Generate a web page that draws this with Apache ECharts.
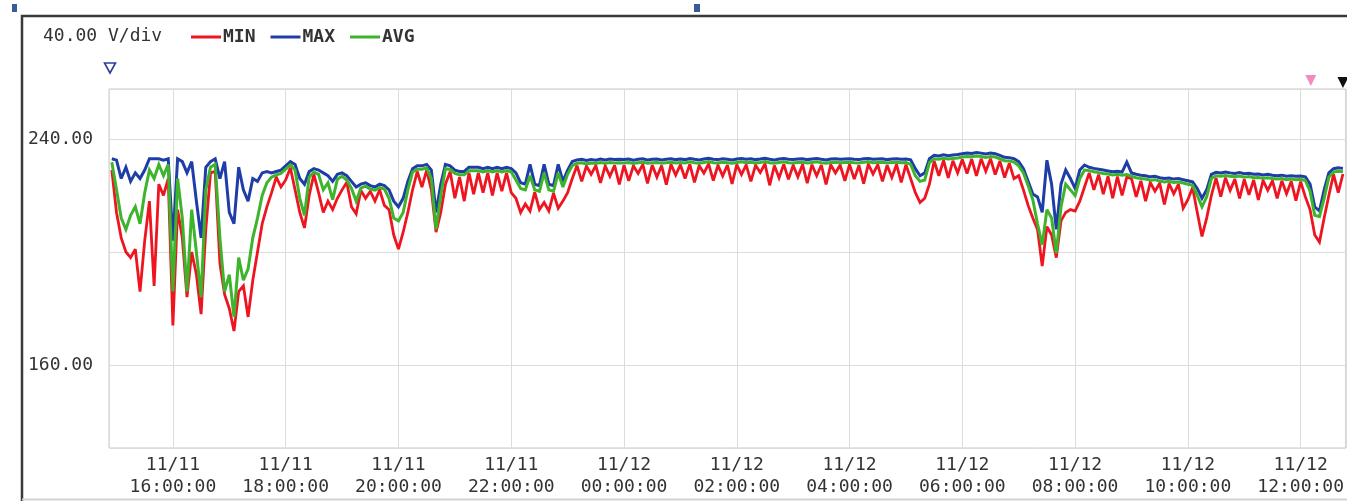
<!DOCTYPE html>
<html>
<head>
<meta charset="utf-8">
<title>Voltage trend</title>
<script src="https://cdn.jsdelivr.net/npm/echarts@6/dist/echarts.min.js"></script>
<style>
  html, body { margin: 0; padding: 0; background: #ffffff; }
  #chart { width: 1347px; height: 501px; }
</style>
</head>
<body>
<div id="chart"></div>
<script>
// Voltage samples every 5 minutes, first sample 11/11 14:55 (rows = one hour each)
const minV = [
  229.0,                                                                               // 14:55
  214.0, 205.0, 200.0, 198.0, 201.0, 186.0, 204.0, 218.0, 188.0, 224.0, 220.0, 226.0, // 15:00
  174.0, 215.0, 205.0, 184.0, 200.0, 192.0, 178.0, 208.0, 228.0, 228.5, 196.0, 185.0, // 16:00
  180.0, 172.0, 186.0, 188.0, 177.0, 190.0, 200.0, 210.0, 216.0, 221.0, 226.5, 223.0, // 17:00
  225.5, 229.8, 222.0, 214.0, 208.5, 220.0, 227.5, 221.0, 214.0, 218.0, 215.0, 219.0, // 18:00
  222.0, 224.7, 216.0, 213.5, 221.8, 219.0, 221.5, 218.0, 222.0, 216.5, 215.0, 206.0, // 19:00
  201.0, 207.0, 214.0, 222.0, 228.5, 223.0, 229.0, 222.0, 207.0, 214.0, 224.0, 228.4, // 20:00
  219.0, 226.5, 218.0, 228.0, 220.5, 228.0, 221.0, 228.0, 220.0, 228.0, 221.5, 228.0, // 21:00
  221.0, 219.0, 214.0, 217.0, 214.5, 221.2, 215.0, 217.5, 214.5, 220.8, 215.5, 218.0, // 22:00
  221.0, 226.0, 230.6, 225.0, 230.4, 227.5, 230.6, 224.5, 230.5, 226.8, 230.7, 223.9, // 23:00
  230.7, 225.2, 230.5, 227.8, 231.0, 224.3, 230.8, 226.5, 230.6, 223.8, 231.0, 227.2, // 00:00
  230.9, 226.0, 231.1, 224.6, 230.6, 227.9, 231.2, 225.3, 230.7, 226.9, 230.8, 224.1, // 01:00
  230.9, 227.4, 230.8, 225.0, 230.7, 228.1, 231.2, 223.6, 230.6, 226.2, 231.1, 225.7, // 02:00
  230.7, 226.6, 231.0, 224.4, 230.9, 227.0, 230.8, 223.9, 230.9, 228.0, 230.8, 225.2, // 03:00
  231.0, 225.8, 230.7, 224.2, 231.1, 227.6, 230.9, 225.0, 230.7, 226.4, 231.0, 224.6, // 04:00
  230.9, 226.0, 221.0, 217.5, 219.0, 224.0, 232.2, 227.0, 232.4, 226.2, 232.3, 228.0, // 05:00
  232.8, 227.8, 232.9, 226.9, 233.0, 228.6, 233.0, 227.4, 232.2, 226.3, 231.4, 226.0, // 06:00
  227.0, 222.0, 216.5, 212.0, 208.0, 195.0, 209.0, 206.0, 198.0, 211.0, 214.0, 215.0, // 07:00
  214.5, 218.0, 223.0, 228.0, 222.0, 227.4, 220.5, 226.8, 219.0, 226.7, 220.0, 226.5, // 08:00
  226.0, 219.5, 225.2, 218.0, 224.6, 221.5, 224.3, 216.8, 224.2, 220.6, 224.0, 215.5, // 09:00
  218.5, 222.8, 214.0, 205.5, 212.0, 220.0, 226.2, 219.6, 226.3, 221.8, 225.8, 219.0, // 10:00
  225.7, 220.2, 225.5, 218.4, 225.3, 221.8, 225.2, 219.0, 225.2, 220.6, 225.0, 218.2, // 11:00
  224.9, 219.5, 215.0, 206.0, 203.5, 212.0, 220.0, 227.5, 221.0, 227.6              // 12:00
];

const maxV = [
  233.0,
  232.5, 226.0, 230.0, 225.0, 228.0, 226.0, 229.0, 233.0, 233.0, 233.0, 232.5, 233.0,
  204.0, 233.0, 232.0, 228.0, 232.0, 218.0, 205.0, 230.0, 232.0, 233.0, 226.0, 232.0,
  214.0, 210.0, 230.0, 222.0, 218.0, 226.0, 225.0, 228.0, 228.5, 228.0, 228.5, 229.0,
  230.5, 232.0, 231.0, 226.0, 224.0, 228.5, 229.5, 229.0, 228.0, 227.0, 225.0, 227.5,
  228.0, 227.0, 225.0, 223.0, 224.0, 224.5, 223.5, 223.0, 224.0, 223.5, 222.0, 218.0,
  216.0, 219.0, 225.0, 229.5, 230.5, 230.5, 231.0, 229.0, 214.0, 224.0, 231.0, 230.5,
  229.0, 228.5, 228.5, 230.0, 230.0, 230.0, 229.5, 230.0, 229.5, 230.0, 229.5, 230.0,
  229.5, 228.0, 224.5, 224.0, 231.0, 224.0, 223.5, 231.0, 224.0, 223.5, 231.0, 225.0,
  229.0, 232.0, 232.6, 232.8, 232.4, 232.7, 232.5, 232.9, 232.6, 232.9, 232.7, 232.8,
  232.7, 232.9, 232.5, 232.8, 233.0, 232.6, 232.8, 232.9, 232.6, 232.8, 233.0, 232.7,
  232.9, 232.7, 233.1, 232.8, 232.6, 232.9, 233.2, 232.8, 232.7, 233.0, 232.8, 232.6,
  232.9, 233.1, 232.8, 233.0, 232.7, 232.9, 233.2, 232.8, 232.6, 232.9, 233.1, 232.8,
  232.7, 232.9, 233.0, 232.7, 232.9, 233.1, 232.8, 232.6, 232.9, 233.0, 232.8, 232.9,
  233.0, 232.8, 232.7, 233.0, 233.1, 232.8, 232.9, 233.0, 232.7, 232.9, 233.0, 232.8,
  232.9, 232.6, 229.5, 227.0, 228.0, 233.0, 234.2, 234.0, 234.4, 234.1, 234.3, 234.5,
  234.8, 235.0, 234.9, 235.2, 235.0, 234.7, 235.0, 234.8, 234.2, 233.5, 233.4, 233.0,
  232.0, 229.5, 225.0, 220.5, 219.5, 214.0, 232.5, 224.0, 208.0, 224.0, 229.0, 226.0,
  222.5, 229.0, 230.8, 230.0, 229.6, 229.3, 229.0, 228.7, 228.4, 228.6, 228.3, 231.8,
  228.0, 227.5, 227.2, 227.0, 226.6, 226.8, 226.3, 226.0, 226.2, 225.8, 226.0, 225.6,
  225.2, 224.8, 222.5, 219.0, 222.0, 227.5, 228.2, 228.0, 228.3, 228.0, 227.8, 228.1,
  227.7, 227.9, 227.5, 227.6, 227.3, 227.5, 227.2, 227.0, 227.2, 226.8, 227.0, 226.8,
  226.9, 226.6, 224.0, 216.0, 214.5, 222.0, 228.0, 229.5, 229.8, 229.6
];

const avgV = [
  231.8,
  222.0, 212.0, 208.0, 213.0, 216.0, 210.0, 221.0, 229.0, 226.0, 231.0, 227.0, 231.0,
  186.0, 226.0, 212.0, 186.0, 215.0, 200.0, 184.0, 222.0, 230.0, 231.0, 205.0, 186.0,
  192.0, 177.0, 198.0, 190.0, 194.0, 205.0, 212.0, 220.0, 224.5, 226.5, 227.3, 227.8,
  229.3, 230.8, 229.0, 219.0, 213.0, 226.5, 228.3, 227.5, 222.0, 224.5, 218.5, 225.8,
  226.8, 225.5, 222.5, 218.0, 222.6, 223.3, 222.3, 221.9, 222.8, 222.3, 219.0, 212.0,
  211.0, 214.0, 222.0, 228.3, 229.3, 229.3, 229.8, 226.0, 208.0, 220.0, 229.5, 229.2,
  227.8, 227.3, 227.3, 228.8, 228.8, 228.8, 228.3, 228.8, 228.3, 228.8, 228.3, 228.8,
  228.3, 225.5, 222.5, 222.0, 227.0, 222.0, 221.5, 228.0, 222.0, 221.5, 228.0, 223.0,
  227.5, 230.6, 231.4, 231.6, 231.2, 231.5, 231.3, 231.7, 231.4, 231.7, 231.5, 231.6,
  231.5, 231.7, 231.3, 231.6, 231.8, 231.4, 231.6, 231.7, 231.4, 231.6, 231.8, 231.5,
  231.7, 231.5, 231.9, 231.6, 231.4, 231.7, 232.0, 231.6, 231.5, 231.8, 231.6, 231.4,
  231.7, 231.9, 231.6, 231.8, 231.5, 231.7, 232.0, 231.6, 231.4, 231.7, 231.9, 231.6,
  231.5, 231.7, 231.8, 231.5, 231.7, 231.9, 231.6, 231.4, 231.7, 231.8, 231.6, 231.7,
  231.8, 231.6, 231.5, 231.8, 231.9, 231.6, 231.7, 231.8, 231.5, 231.7, 231.8, 231.6,
  231.7, 231.0, 227.0, 225.0, 225.5, 231.6, 233.0, 232.8, 233.2, 232.9, 233.1, 233.3,
  233.6, 233.8, 233.7, 234.0, 233.8, 233.5, 233.8, 233.6, 233.0, 232.3, 232.2, 231.8,
  230.5, 228.0, 223.5, 218.5, 210.0, 202.5, 215.0, 212.0, 199.5, 216.0, 224.0, 222.0,
  220.0, 226.0, 229.0, 228.8, 228.4, 228.1, 227.8, 227.6, 227.3, 227.5, 227.2, 227.4,
  226.8, 226.3, 226.0, 225.8, 225.4, 225.6, 225.1, 224.8, 225.0, 224.6, 224.8, 224.4,
  224.0, 223.6, 220.0, 216.0, 219.5, 226.0, 227.0, 226.8, 227.1, 226.8, 226.6, 226.9,
  226.5, 226.7, 226.3, 226.4, 226.1, 226.3, 226.0, 225.8, 226.0, 225.6, 225.8, 225.6,
  225.7, 225.3, 221.5, 213.0, 212.5, 219.0, 226.5, 228.3, 228.6, 228.4
];

// Time axis in hours counted from 11/11 00:00
const firstSampleHour = 14 + 55 / 60;
const sampleStepHours = 5 / 60;
const axisStartHour = 14 + 52 / 60;
const axisEndHour = 36.8;
const voltMin = 130.6;
const voltMax = 257.7;
const gridStep = 40;           // V/div
const labelStep = 80;

// Cursor positions (hours)
const cursorStart = axisStartHour;
const cursorB = 36.18;
const cursorC = 36.75;

const seriesNames = ['MIN', 'MAX', 'AVG'];
const colors = { MIN: '#ee1420', MAX: '#1f3da6', AVG: '#3db42c' };
const widths = { MIN: 2.8, MAX: 3, AVG: 3 };

const monoFont = '"DejaVu Sans Mono", "Liberation Mono", monospace';
const hours = maxV.map((_, i) => firstSampleHour + i * sampleStepHours);
const toPairs = arr => arr.map((v, i) => [hours[i], v]);

function timeLabel(v) {
  const h = Math.round(v);
  if (Math.abs(v - h) > 1e-6 || h % 2 !== 0) return '';
  const day = 11 + Math.floor(h / 24);
  const hh = String(h % 24).padStart(2, '0');
  return '11/' + day + '\n' + hh + ':00:00';
}

function voltLabel(v) {
  const r = Math.round(v);
  if (Math.abs(v - r) > 1e-6 || r % labelStep !== 0) return '';
  return r.toFixed(2);
}

const chart = echarts.init(document.getElementById('chart'), null, { renderer: 'canvas' });

const lineSeries = (name, values) => ({
  name: name,
  type: 'line',
  data: toPairs(values),
  symbol: 'none',
  showSymbol: false,
  sampling: null,
  lineStyle: { width: widths[name], color: colors[name], join: 'miter', miterLimit: 3 },
  itemStyle: { color: colors[name] },
  animation: false
});

chart.setOption({
  animation: false,
  backgroundColor: '#ffffff',
  title: {
    text: '40.00 V/div',
    left: 38,
    top: 22,
    textStyle: { fontFamily: monoFont, fontSize: 18, fontWeight: 'normal', color: '#333333' }
  },
  legend: {
    data: seriesNames,
    left: 186,
    top: 23,
    icon: 'rect',
    itemWidth: 30,
    itemHeight: 3,
    itemGap: 15,
    textStyle: { fontFamily: monoFont, fontSize: 18, fontWeight: 'bold', color: '#333333', padding: [0, 0, 0, -3] }
  },
  grid: {
    left: 109,
    right: -1,
    top: 89,
    bottom: 53,
    show: true,
    borderColor: '#c8c8c8',
    borderWidth: 1,
    containLabel: false
  },
  xAxis: {
    type: 'value',
    min: axisStartHour,
    max: axisEndHour,
    splitNumber: 11,
    minInterval: 2,
    maxInterval: 2,
    axisLine: { show: false },
    axisTick: { show: false },
    splitLine: { show: true, lineStyle: { color: '#dcdcdc', width: 1 } },
    axisLabel: {
      formatter: timeLabel,
      fontFamily: monoFont,
      fontSize: 18,
      lineHeight: 22,
      color: '#333333',
      margin: 6,
      showMinLabel: false,
      showMaxLabel: false,
      hideOverlap: false
    }
  },
  yAxis: {
    type: 'value',
    min: voltMin,
    max: voltMax,
    splitNumber: 3,
    minInterval: gridStep,
    maxInterval: gridStep,
    axisLine: { show: false },
    axisTick: { show: false },
    splitLine: { show: true, lineStyle: { color: '#dcdcdc', width: 1 } },
    axisLabel: {
      formatter: voltLabel,
      fontFamily: monoFont,
      fontSize: 18,
      color: '#333333',
      margin: 16,
      showMinLabel: false,
      showMaxLabel: false
    }
  },
  series: [
    lineSeries('MIN', minV),
    lineSeries('MAX', maxV),
    lineSeries('AVG', avgV)
  ]
});

// Frame, page markers and cursor triangles
const xStart = chart.convertToPixel({ xAxisIndex: 0 }, cursorStart);
const xB = chart.convertToPixel({ xAxisIndex: 0 }, cursorB);
const xC = chart.convertToPixel({ xAxisIndex: 0 }, cursorC);
const tri = (x, top, h, w) => [[x - w / 2, top], [x + w / 2, top], [x, top + h]];

chart.setOption({
  graphic: [
    { type: 'rect', shape: { x: 22, y: 16, width: 1400, height: 600 },
      style: { fill: null, stroke: '#3a3a3a', lineWidth: 2.5 }, silent: true, z: 10 },
    { type: 'line', shape: { x1: 22, y1: 499.5, x2: 1347, y2: 499.5 },
      style: { stroke: '#d4d4d4', lineWidth: 2 }, silent: true, z: 10 },
    { type: 'rect', shape: { x: 12, y: 4, width: 5, height: 8 },
      style: { fill: '#3b5a9c' }, silent: true, z: 10 },
    { type: 'rect', shape: { x: 694, y: 4, width: 6, height: 8 },
      style: { fill: '#3b5a9c' }, silent: true, z: 10 },
    { type: 'polygon', shape: { points: tri(xStart + 1, 63, 10, 11) },
      style: { fill: '#ffffff', stroke: '#2b3c9e', lineWidth: 1.6 }, silent: true, z: 10 },
    { type: 'polygon', shape: { points: tri(xB, 75, 11, 11) },
      style: { fill: '#f08dbf' }, silent: true, z: 10 },
    { type: 'polygon', shape: { points: tri(xC, 77, 11, 11) },
      style: { fill: '#111111' }, silent: true, z: 10 }
  ]
});
</script>
</body>
</html>
